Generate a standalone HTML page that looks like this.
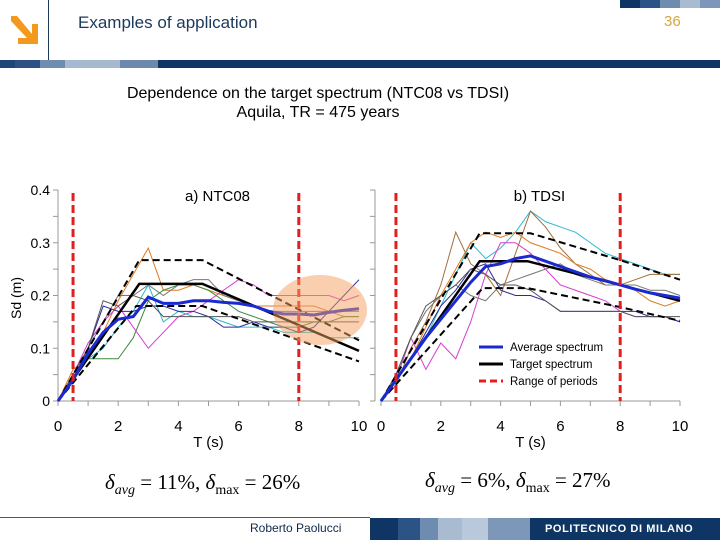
<!DOCTYPE html>
<html><head><meta charset="utf-8"><style>
body{margin:0;width:720px;height:540px;overflow:hidden;background:#fff;font-family:"Liberation Sans",sans-serif;position:relative}
.a{position:absolute}
</style></head><body>
<div class="a" style="left:8px;top:14px;width:30px;height:34px">
<svg width="30" height="34"><polygon points="3,2 9,2 24,20 24,10 30,10 30,30 10,30 10,24 19,24 3,7" fill="#f39a1e"/></svg></div>
<div class="a" style="left:48px;top:0;width:1px;height:60px;background:#1a3a5c"></div>
<div class="a" style="left:78px;top:13px;font-size:17px;color:#1a3a5c">Examples of application</div>
<div class="a" style="left:664px;top:13px;font-size:15px;color:#d4a640">36</div>
<div class="a" style="left:620px;top:0;width:100px;height:8px;background:linear-gradient(90deg,#0e3563 0 20%,#2b5386 20% 40%,#6d8cb0 40% 60%,#a9bbd0 60% 80%,#7c97b8 80%)"></div>
<div class="a" style="left:0;top:60px;width:720px;height:8px;background:linear-gradient(90deg,#1e4677 0 15px,#2d5385 15px 40px,#6e8db0 40px 65px,#a6b9cf 65px 120px,#6d8aad 120px 158px,#0e3563 158px)"></div>
<div class="a" style="left:0;width:636px;top:84px;text-align:center;font-size:16px;line-height:19px;color:#000">Dependence on the target spectrum (NTC08 vs TDSI)<br>Aquila, TR = 475 years</div>
<svg class="a" style="left:0;top:0" width="720" height="540" id="chart"></svg>
<div class="a" style="left:105px;top:470px;font-family:'Liberation Serif',serif;font-size:21px"><i>δ<sub style="font-size:14px">avg</sub></i> = 11%, <i>δ</i><sub style="font-size:14px">max</sub> = 26%</div>
<div class="a" style="left:425px;top:468px;font-family:'Liberation Serif',serif;font-size:21px"><i>δ<sub style="font-size:14px">avg</sub></i> = 6%, <i>δ</i><sub style="font-size:14px">max</sub> = 27%</div>
<div class="a" style="left:0;top:517px;width:370px;height:1px;background:#555"></div>
<div class="a" style="left:250px;top:521px;font-size:12px;color:#0e2a4a">Roberto Paolucci</div>
<div class="a" style="left:370px;top:518px;width:350px;height:22px;background:linear-gradient(90deg,#0e3563 0 28px,#2b5386 28px 50px,#6d8cb0 50px 68px,#a9bbd0 68px 92px,#b9c8da 92px 118px,#7c97b8 118px 160px,#0e3563 160px)"></div>
<div class="a" style="left:545px;top:523px;font-size:11px;color:#fff;letter-spacing:0.6px;font-weight:bold">POLITECNICO DI MILANO</div>
<script>
const periods=[0,0.5,1,1.5,2,2.5,3,3.5,4,4.5,5,5.5,6,6.5,7,7.5,8,8.5,9,9.5,10];
const yTicks=[0,0.1,0.2,0.3,0.4];
const xTicks=[0,2,4,6,8,10];
const rangeOfPeriods=[0.5,8];
const ntcColors=['#e07b20','#777','#3a8a3a','#d63cd0','#2bbad0','#2a2a9a','#555'];
const ntcRecords=[
[0,.06,.08,.13,.19,.24,.29,.21,.21,.22,.21,.2,.19,.18,.18,.18,.18,.18,.17,.16,.16],
[0,.05,.1,.15,.2,.2,.22,.2,.22,.23,.23,.2,.19,.18,.17,.17,.17,.17,.17,.17,.17],
[0,.04,.08,.08,.08,.12,.19,.21,.22,.22,.21,.19,.17,.16,.15,.14,.14,.15,.15,.16,.16],
[0,.05,.11,.15,.18,.14,.1,.13,.16,.17,.19,.21,.23,.22,.2,.2,.2,.2,.2,.19,.2],
[0,.04,.08,.1,.14,.17,.22,.15,.17,.16,.16,.15,.14,.14,.14,.13,.13,.13,.12,.12,.12],
[0,.04,.1,.18,.17,.17,.18,.18,.17,.17,.16,.14,.14,.15,.14,.14,.13,.14,.17,.2,.23],
[0,.05,.1,.19,.18,.2,.19,.16,.16,.16,.16,.16,.16,.15,.15,.15,.15,.15,.15,.15,.15]];
const ntcAverage=[0,.04,.09,.13,.155,.16,.197,.185,.185,.19,.19,.187,.185,.18,.17,.165,.165,.163,.168,.172,.175];
const ntcTargetX=[0,2.7,4.8,10], ntcTarget=[0,.222,.222,.095];
const ntcUpperX=[0,2.7,4.8,10], ntcUpper=[0,.267,.267,.115];
const ntcLowerX=[0,2.6,4.8,10], ntcLower=[0,.18,.18,.075];
const tdsiColors=['#2bbad0','#a0703a','#e07b20','#d63cd0','#777','#2a2a9a','#555'];
const tdsiRecords=[
[0,.04,.08,.12,.18,.24,.3,.27,.29,.32,.36,.34,.33,.32,.3,.28,.27,.26,.25,.24,.24],
[0,.03,.1,.15,.22,.32,.26,.24,.2,.28,.36,.33,.29,.26,.24,.22,.22,.23,.24,.24,.24],
[0,.04,.08,.14,.2,.25,.3,.32,.31,.32,.3,.29,.28,.26,.25,.23,.22,.21,.19,.18,.19],
[0,.04,.12,.06,.11,.08,.15,.24,.3,.3,.28,.25,.22,.21,.2,.19,.17,.16,.16,.16,.15],
[0,.05,.12,.17,.2,.22,.2,.19,.22,.23,.24,.25,.26,.24,.23,.22,.22,.22,.21,.21,.2],
[0,.04,.08,.13,.18,.21,.25,.26,.21,.2,.2,.19,.17,.17,.17,.17,.17,.17,.16,.16,.15],
[0,.05,.12,.18,.2,.22,.25,.24,.22,.22,.21,.19,.17,.17,.17,.17,.17,.16,.16,.16,.16]];
const tdsiAverage=[0,.04,.08,.12,.155,.19,.225,.255,.26,.27,.275,.265,.255,.245,.235,.228,.22,.212,.205,.2,.195];
const tdsiTargetX=[0,3.3,4.9,8,10], tdsiTarget=[0,.265,.265,.22,.19];
const tdsiUpperX=[0,3.3,5,8,10], tdsiUpper=[0,.318,.318,.267,.23];
const tdsiLowerX=[0,3.4,4.9,8,10], tdsiLower=[0,.214,.214,.178,.152];

const svg=document.getElementById('chart');const NS='http://www.w3.org/2000/svg';
function mk(t,a,p){const e=document.createElementNS(NS,t);for(const k in a)e.setAttribute(k,a[k]);(p||svg).appendChild(e);return e;}
const Y=v=>401-v*527.5;
function panel(x0,x1,name,title,colors,recs,avg,tX,t,uX,u,lX,l,labels){
  const X=v=>x0+(x1-x0)*v/10;
  const g=mk('g',{});
  const ax=x0-(labels?0:6);
  mk('line',{x1:ax,y1:190,x2:ax,y2:401,stroke:'#999'},g);
  mk('line',{x1:x0,y1:401,x2:x1,y2:401,stroke:'#999'},g);
  for(let v=0;v<=0.4001;v+=0.05)mk('line',{x1:ax-5,y1:Y(v),x2:ax,y2:Y(v),stroke:'#999'},g);
  for(let v=0;v<=10;v++)mk('line',{x1:X(v),y1:401,x2:X(v),y2:406,stroke:'#999'},g);
  if(labels)yTicks.forEach(v=>{const e=mk('text',{x:50,y:Y(v)+5,'text-anchor':'end','font-size':14},g);e.textContent=v===0?'0':v.toFixed(1);});
  xTicks.forEach(v=>{const e=mk('text',{x:X(v),y:431,'text-anchor':'middle','font-size':15},g);e.textContent=v;});
  const xt=mk('text',{x:(x0+x1)/2,y:447,'text-anchor':'middle','font-size':15},g);xt.textContent='T (s)';
  const tt=mk('text',{x:X(5.3),y:201,'text-anchor':'middle','font-size':15},g);tt.textContent=title;
  const P=(xs,ys)=>xs.map((x,i)=>X(x)+','+Y(ys[i])).join(' ');
  recs.forEach((r,i)=>{const e=mk('polyline',{points:P(periods,r),fill:'none',stroke:colors[i],'stroke-width':1},g);
    });
  mk('polyline',{points:P(uX,u),fill:'none',stroke:'#000','stroke-width':2,'stroke-dasharray':'7,4'},g);
  mk('polyline',{points:P(lX,l),fill:'none',stroke:'#000','stroke-width':2,'stroke-dasharray':'7,4'},g);
  const te=mk('polyline',{points:P(tX,t),fill:'none',stroke:'#000','stroke-width':2.5},g);
  
  const ae=mk('polyline',{points:P(periods,avg),fill:'none',stroke:'#1a2ad0','stroke-width':3},g);
  
  rangeOfPeriods.forEach(v=>{const e=mk('line',{x1:X(v),y1:193,x2:X(v),y2:401,stroke:'#e02020','stroke-width':3,'stroke-dasharray':'8,4'},g);
    });
}
panel(58,359,'ntc08-chart','a) NTC08',ntcColors,ntcRecords,ntcAverage,ntcTargetX,ntcTarget,ntcUpperX,ntcUpper,ntcLowerX,ntcLower,true);
panel(381,680,'tdsi-chart','b) TDSI',tdsiColors,tdsiRecords,tdsiAverage,tdsiTargetX,tdsiTarget,tdsiUpperX,tdsiUpper,tdsiLowerX,tdsiLower,false);
const el=mk('ellipse',{cx:320,cy:310,rx:47,ry:35,fill:'#f3a060','fill-opacity':0.5});


const yl=mk('text',{x:0,y:0,'font-size':14,'text-anchor':'middle',transform:'translate(21,298) rotate(-90)'});yl.textContent='Sd (m)';


const leg=mk('g',{});


[['Average spectrum','#1a2ad0',null],['Target spectrum','#000',null],['Range of periods','#e02020','7,4']].forEach((d,i)=>{
  const y=347+i*17;const a={x1:479,y1:y,x2:503,y2:y,stroke:d[1],'stroke-width':3};if(d[2])a['stroke-dasharray']=d[2];
  mk('line',a,leg);const t=mk('text',{x:510,y:y+4,'font-size':11.5},leg);t.textContent=d[0];
  
  
});
</script>
</body></html>
